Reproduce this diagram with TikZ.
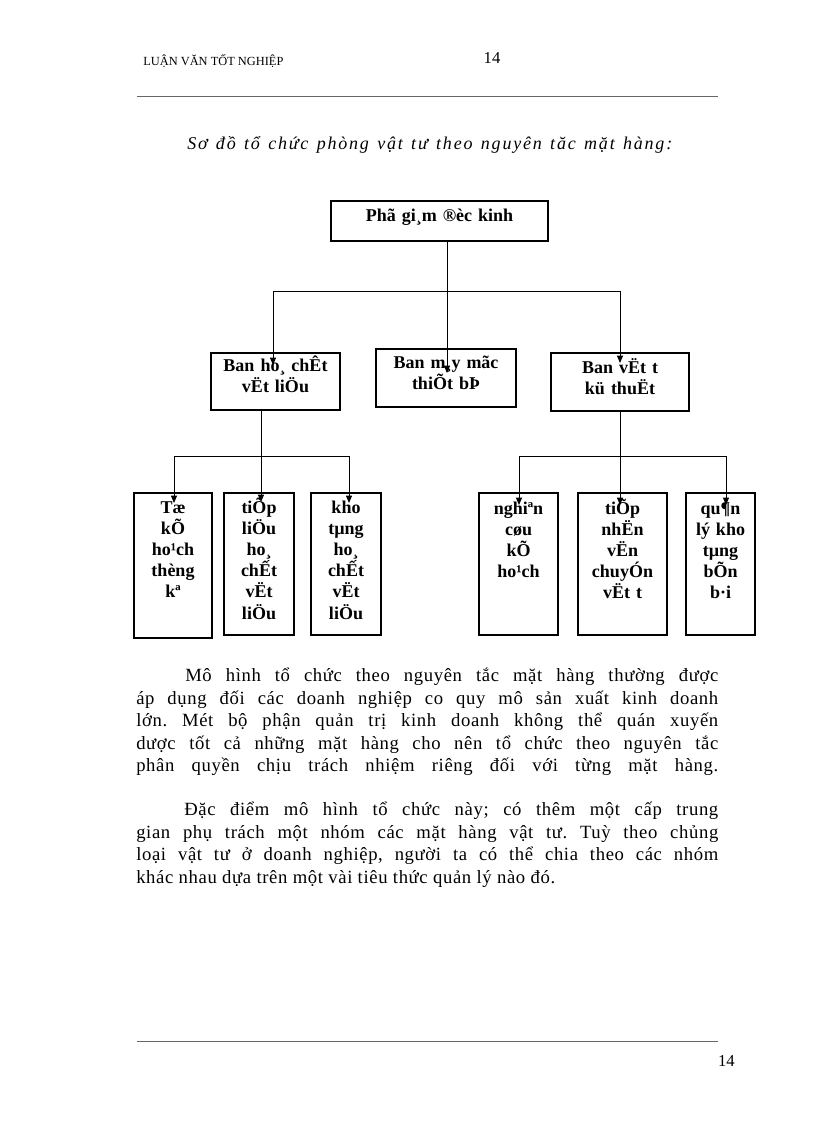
\documentclass[tikz,border=0pt]{standalone}
\usepackage{fontspec}
\setmainfont{Liberation Serif}
\newfontfamily\bodyfont[LetterSpace=3.4]{Liberation Serif}
\newfontfamily\titlefont[LetterSpace=10]{Liberation Serif}
\usetikzlibrary{arrows.meta,fit,calc}
\frenchspacing
\begin{document}
\begin{tikzpicture}[x=0.75pt,y=-0.75pt,
  box/.style={draw, line width=0.9pt, inner sep=0pt},
  lbl/.style={font=\bfseries\fontsize{13.5}{15.9}\selectfont, align=center, inner sep=0pt, anchor=base},
  link/.style={line width=0.7pt},
  arr/.style={link, -{Triangle[length=5.5pt,width=4.5pt]}},
  body/.style={font=\bodyfont\frenchspacing\fontsize{14}{16.9}\selectfont, inner sep=0pt, anchor=base west},
  rule/.style={draw=black!60, line width=0.6pt},
]
\useasboundingbox (0,0) rectangle (816,1123);

% page furniture
\node[anchor=base west, inner sep=0pt, font=\fontsize{9.3}{10}\selectfont] (hdr) at (143,66) {LUẬN VĂN TỐT NGHIỆP};
\node[anchor=base, inner sep=0pt, font=\fontsize{12.5}{14}\selectfont] (pgtop) at (492,64) {14};
\draw[rule] (137,96) -- (718,96);
\draw[rule] (137,1041) -- (718,1041);
\node[anchor=base east, inner sep=0pt, font=\fontsize{12.5}{14}\selectfont] (pgbot) at (735,1066) {14};

% title
\node[anchor=base west, inner sep=0pt, font=\titlefont\itshape\fontsize{13.5}{15}\selectfont] (title) at (187,150)
  {\makebox[363.75pt][s]{Sơ đồ tổ chức phòng vật tư theo nguyên tăc mặt hàng:}};

% boxes
\node[box, fit={(331,201) (548,241)}] (top) {};
\node[box, fit={(211,353) (340,410)}] (ban1) {};
\node[box, fit={(376,349) (516,407)}] (ban2) {};
\node[box, fit={(551,353) (689,411)}] (ban3) {};
\node[box, fit={(134,493) (212,638)}] (b1) {};
\node[box, fit={(224,493) (294,635)}] (b2) {};
\node[box, fit={(311,493) (381,635)}] (b3) {};
\node[box, fit={(479,493) (558,635)}] (b4) {};
\node[box, fit={(578,493) (667,635)}] (b5) {};
\node[box, fit={(686,493) (755,635)}] (b6) {};

% box texts
\node[lbl, text width=163pt] (topt) at (439.5,222) {Phã gi¸m ®èc kinh};
\node[lbl, text width=97pt] (ban1t) at (275.5,371) {Ban ho¸ chÊt\\vËt liÖu};
\node[lbl, text width=105pt] (ban2t) at (446,368) {Ban m¸y mãc\\thiÕt bÞ};
\node[lbl, text width=103pt] (ban3t) at (620,373) {Ban vËt t\\kü thuËt};
\node[lbl, text width=58pt] (b1t) at (173,513) {Tæ\\kÕ\\ho¹ch\\thèng\\kª};
\node[lbl, text width=52pt] (b2t) at (259,513) {tiÕp\\liÖu\\ho¸\\chẾt\\vËt\\liÖu};
\node[lbl, text width=52pt] (b3t) at (346,513) {kho\\tµng\\ho¸\\chẾt\\vËt\\liÖu};
\node[lbl, text width=59pt] (b4t) at (518.5,514) {nghiªn\\cøu\\kÕ\\ho¹ch};
\node[lbl, text width=66pt] (b5t) at (622.5,514) {tiÕp\\nhËn\\vËn\\chuyÓn\\vËt t};
\node[lbl, text width=52pt] (b6t) at (720.5,514) {qu¶n\\lý kho\\tµng\\bÕn\\b·i};

% connectors, upper level
\coordinate (hl) at (273,291);
\coordinate (hr) at (620,291);
\coordinate (tl) at (273,365);
\coordinate (tm) at (447,373);
\coordinate (tr) at (620,363);
\draw[arr] (tm |- top.south) -- (tm);
\draw[link] (hl) -- (hr);
\draw[arr] (hl) -- (tl);
\draw[arr] (hr) -- (tr);

% connectors, left group
\coordinate (lhl) at (174,456);
\coordinate (lhr) at (349,456);
\coordinate (lt1) at (174,503);
\coordinate (lt2) at (261,502);
\coordinate (lt3) at (349,503);
\draw[arr] (lt2 |- ban1.south) -- (lt2);
\draw[link] (lhl) -- (lhr);
\draw[arr] (lhl) -- (lt1);
\draw[arr] (lhr) -- (lt3);

% connectors, right group
\coordinate (rhl) at (519,456);
\coordinate (rhr) at (726,456);
\coordinate (rt1) at (519,505);
\coordinate (rt2) at (620,505);
\coordinate (rt3) at (726,505);
\draw[arr] (rt2 |- ban3.south) -- (rt2);
\draw[link] (rhl) -- (rhr);
\draw[arr] (rhl) -- (rt1);
\draw[arr] (rhr) -- (rt3);

% body text
\node[body] (p1l1) at (185,681) {\makebox[399.75pt][s]{Mô hình tổ chức theo nguyên tắc mặt hàng thường được}};
\node[body] (p1l2) at (136,704) {\makebox[436.5pt][s]{áp dụng đối các doanh nghiệp co quy mô sản xuất kinh doanh}};
\node[body] (p1l3) at (136,726) {\makebox[436.5pt][s]{lớn. Mét bộ phận quản trị kinh doanh không thể quán xuyến}};
\node[body] (p1l4) at (136,749) {\makebox[436.5pt][s]{dược tốt cả những mặt hàng cho nên tổ chức theo nguyên tắc}};
\node[body] (p1l5) at (136,771) {\makebox[436.5pt][s]{phân quyền chịu trách nhiệm riêng đối với từng mặt hàng.}};
\node[body] (p2l1) at (184,815) {\makebox[400.5pt][s]{Đặc điểm mô hình tổ chức này; có thêm một cấp trung}};
\node[body] (p2l2) at (136,838) {\makebox[436.5pt][s]{gian phụ trách một nhóm các mặt hàng vật tư. Tuỳ theo chủng}};
\node[body] (p2l3) at (136,860) {\makebox[436.5pt][s]{loại vật tư ở doanh nghiệp, người ta có thể chia theo các nhóm}};
\node[body] (p2l4) at (136,883) {khác nhau dựa trên một vài tiêu thức quản lý nào đó.};
\end{tikzpicture}
\end{document}
